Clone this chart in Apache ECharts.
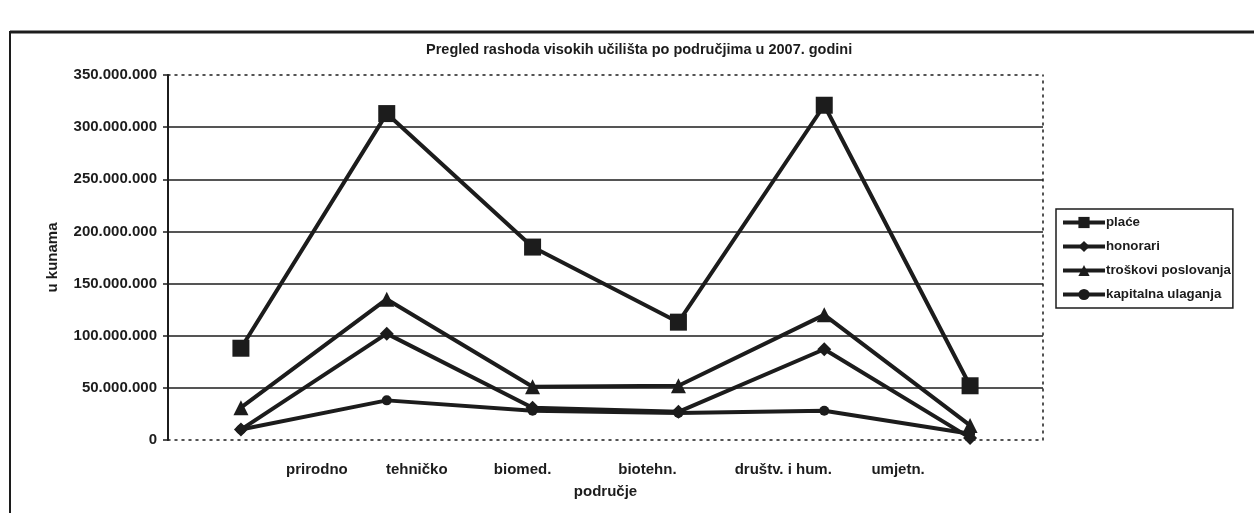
<!DOCTYPE html>
<html>
<head>
<meta charset="utf-8">
<script src="https://cdn.jsdelivr.net/npm/echarts@6/dist/echarts.min.js"></script>
<style>
html,body{margin:0;padding:0;background:#fff;}
#chart{width:1254px;height:513px;}
</style>
</head>
<body>
<div id="chart"></div>
<script>
// ---- data ----
const categories = ['prirodno', 'tehničko', 'biomed.', 'biotehn.', 'društv. i hum.', 'umjetn.'];
const place      = [88000000, 313000000, 185000000, 113000000, 321000000, 52000000];
const honorari   = [10000000, 102000000, 31000000, 27000000, 87000000, 2000000];
const troskovi   = [31000000, 135000000, 51000000, 52000000, 120000000, 14000000];
const kapitalna  = [10000000, 38000000, 28000000, 26000000, 28000000, 6000000];
const seriesNames = ['plaće', 'honorari', 'troškovi poslovanja', 'kapitalna ulaganja'];

// ---- layout / style ----
const labelShift = [76, 30, -10, -31, -41, -72]; // horizontal shift of category labels (px)
const INK = '#1c1c1c';
const FONT = '"Liberation Sans", Arial, sans-serif';

function fmtThousands(v) {
  return String(Math.round(v)).replace(/\B(?=(\d{3})+(?!\d))/g, '.');
}

const rich = {};
labelShift.forEach((s, i) => {
  rich['l' + i] = {
    fontFamily: FONT, fontWeight: 'bold', fontSize: 15, color: INK,
    padding: s >= 0 ? [0, 0, 0, 2 * s] : [0, -2 * s, 0, 0]
  };
});

const chart = echarts.init(document.getElementById('chart'), null, {renderer: 'canvas'});

const lineSeries = (name, data, symbol, size) => ({
  name, type: 'line', data, symbol, symbolSize: size,
  itemStyle: {color: INK},
  lineStyle: {color: INK, width: 4},
  emphasis: {disabled: true}
});

chart.setOption({
  animation: false,
  backgroundColor: '#fff',
  textStyle: {fontFamily: FONT, color: INK},
  title: {
    text: 'Pregled rashoda visokih učilišta po područjima u 2007. godini',
    left: 421, top: 37,
    textStyle: {fontFamily: FONT, fontWeight: 'bold', fontSize: 14.5, color: INK}
  },
  grid: {left: 168, right: 211, top: 75, bottom: 73, containLabel: false},
  legend: {
    orient: 'vertical',
    left: 1056, top: 209,
    data: seriesNames,
    itemWidth: 42, itemHeight: 14, itemGap: 11,
    padding: [7, 2, 7, 5],
    borderColor: INK, borderWidth: 1.5,
    lineStyle: {width: 4},
    textStyle: {fontFamily: FONT, fontWeight: 'bold', fontSize: 13.3, color: INK, padding: [0, 0, 0, -4]}
  },
  xAxis: [{
    type: 'category',
    data: categories,
    boundaryGap: true,
    name: 'područje',
    nameLocation: 'middle',
    nameGap: 44,
    nameTextStyle: {fontFamily: FONT, fontWeight: 'bold', fontSize: 15, color: INK},
    axisLine: {show: true, onZero: false, lineStyle: {color: INK, width: 1.5, type: [2, 5]}},
    axisTick: {show: false},
    axisLabel: {
      margin: 22,
      interval: 0,
      formatter: (v, i) => '{l' + i + '|' + v + '}',
      rich
    },
    splitLine: {show: false}
  }, {
    type: 'category',
    data: categories,
    position: 'top',
    axisLine: {show: true, onZero: false, lineStyle: {color: INK, width: 1.5, type: [2, 5]}},
    axisTick: {show: false},
    axisLabel: {show: false},
    splitLine: {show: false}
  }],
  yAxis: [{
    type: 'value',
    min: 0, max: 350000000, interval: 50000000,
    name: 'u kunama',
    nameLocation: 'middle',
    nameGap: 108,
    nameRotate: 90,
    nameTextStyle: {fontFamily: FONT, fontWeight: 'bold', fontSize: 15, color: INK},
    axisLine: {show: true, onZero: false, lineStyle: {color: INK, width: 2}},
    axisTick: {show: true, inside: false, length: 5, lineStyle: {color: INK, width: 1.5}},
    axisLabel: {
      margin: 11,
      formatter: fmtThousands,
      fontFamily: FONT, fontWeight: 'bold', fontSize: 15, color: INK
    },
    splitLine: {show: true, showMinLine: false, showMaxLine: false, lineStyle: {color: INK, width: 1.5}}
  }, {
    type: 'value',
    min: 0, max: 350000000, interval: 50000000,
    position: 'right',
    axisLine: {show: true, onZero: false, lineStyle: {color: INK, width: 1.5, type: [2, 5]}},
    axisTick: {show: false},
    axisLabel: {show: false},
    splitLine: {show: false}
  }],
  series: [
    lineSeries(seriesNames[0], place, 'rect', 17),
    lineSeries(seriesNames[1], honorari, 'diamond', 14),
    lineSeries(seriesNames[2], troskovi, 'triangle', 15),
    lineSeries(seriesNames[3], kapitalna, 'circle', 10)
  ],
  graphic: [
    {type: 'line', shape: {x1: 10, y1: 32, x2: 1254, y2: 32}, style: {stroke: INK, lineWidth: 3}, silent: true},
    {type: 'line', shape: {x1: 10, y1: 31, x2: 10, y2: 513}, style: {stroke: INK, lineWidth: 2}, silent: true}
  ]
});
</script>
</body>
</html>
